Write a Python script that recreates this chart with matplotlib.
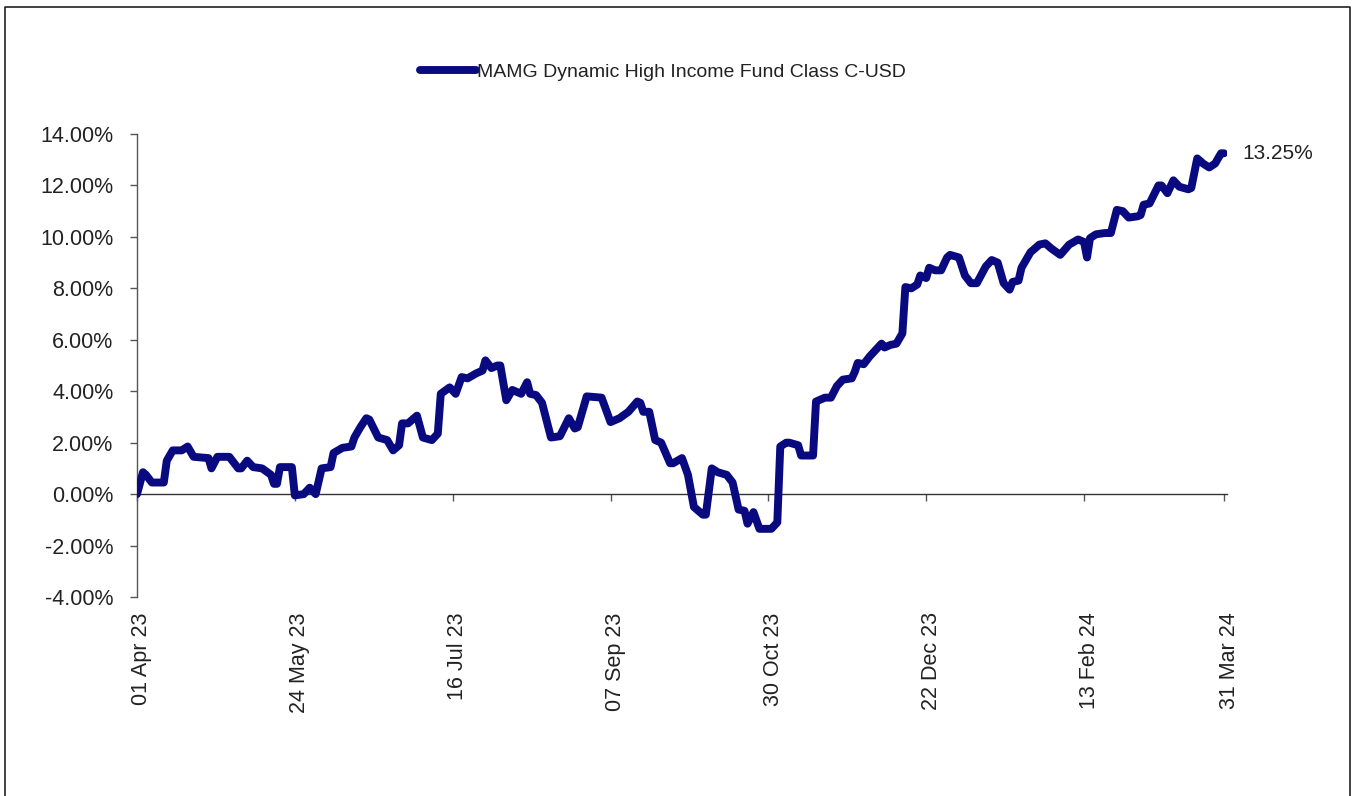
import matplotlib
matplotlib.use("Agg")
import matplotlib.pyplot as plt
from matplotlib.lines import Line2D
from matplotlib.transforms import ScaledTranslation
import pandas as pd

plt.rcParams['font.family'] = ['Liberation Sans', 'DejaVu Sans']

series_name = "MAMG Dynamic High Income Fund Class C-USD"
start_date = "2023-04-01"
# days since 01 Apr 23
days = [0, 2, 3, 5, 9, 10, 12, 15, 17, 19, 24, 25, 27, 31, 34, 35, 37, 39, 42, 45,
        46, 47, 48, 52, 53, 56, 58, 60, 62, 65, 66, 69, 72, 73, 75, 77, 78, 81, 84, 86,
        88, 89, 91, 94, 96, 99, 101, 102, 105, 107, 109, 111, 114, 116, 117, 119, 121, 122, 124, 126,
        129, 131, 132, 134, 136, 139, 142, 145, 147, 148, 151, 156, 159, 162, 165, 168, 169, 170, 172, 174,
        176, 179, 180, 183, 185, 187, 190, 191, 193, 195, 198, 200, 202, 204, 205, 207, 209, 213, 215, 216,
        218, 219, 222, 223, 227, 228, 231, 233, 235, 237, 240, 241, 242, 244, 246, 250, 251, 253, 255, 257,
        258, 260, 262, 263, 265, 266, 268, 270, 272, 273, 276, 278, 280, 282, 285, 287, 289, 291, 293, 294,
        296, 297, 298, 300, 303, 305, 307, 310, 313, 316, 318, 319, 320, 322, 325, 327, 329, 331, 333, 336,
        337, 338, 340, 343, 344, 346, 348, 350, 353, 354, 356, 358, 360, 362, 364, 365]
returns_pct = [0.0, 0.85, 0.75, 0.45, 0.45, 1.3, 1.7, 1.7, 1.85, 1.45, 1.4, 1.0, 1.45, 1.45, 1.0, 1.0, 1.3, 1.05, 1.0, 0.75,
               0.4, 0.4, 1.05, 1.05, -0.05, 0.0, 0.25, 0.0, 1.0, 1.05, 1.6, 1.8, 1.85, 2.2, 2.6, 2.95, 2.9, 2.2, 2.1, 1.7,
               1.9, 2.75, 2.75, 3.05, 2.2, 2.1, 2.35, 3.9, 4.15, 3.9, 4.55, 4.5, 4.7, 4.8, 5.2, 4.9, 5.0, 5.0, 3.65, 4.05,
               3.9, 4.35, 3.9, 3.85, 3.55, 2.2, 2.25, 2.95, 2.55, 2.6, 3.8, 3.75, 2.8, 2.95, 3.2, 3.6, 3.55, 3.2, 3.2, 2.1,
               2.0, 1.2, 1.2, 1.4, 0.75, -0.5, -0.8, -0.8, 1.0, 0.85, 0.75, 0.45, -0.6, -0.65, -1.15, -0.7, -1.35, -1.35, -1.1, 1.85,
               2.0, 2.0, 1.9, 1.5, 1.5, 3.6, 3.75, 3.75, 4.2, 4.45, 4.5, 4.75, 5.1, 5.05, 5.35, 5.85, 5.7, 5.8, 5.85, 6.25,
               8.05, 8.0, 8.15, 8.5, 8.4, 8.8, 8.7, 8.7, 9.2, 9.3, 9.2, 8.5, 8.2, 8.2, 8.85, 9.1, 9.0, 8.2, 7.95, 8.25,
               8.3, 8.8, 9.0, 9.4, 9.7, 9.75, 9.55, 9.3, 9.7, 9.9, 9.8, 9.2, 9.95, 10.1, 10.15, 10.15, 11.05, 11.0, 10.75, 10.8,
               10.85, 11.25, 11.3, 12.0, 12.0, 11.7, 12.2, 11.95, 11.85, 11.9, 13.05, 12.85, 12.7, 12.85, 13.25, 13.25]
tick_dates = ["2023-04-01", "2023-05-24", "2023-07-16", "2023-09-07",
              "2023-10-30", "2023-12-22", "2024-02-13", "2024-03-31"]
tick_labels = ["01 Apr 23", "24 May 23", "16 Jul 23", "07 Sep 23",
               "30 Oct 23", "22 Dec 23", "13 Feb 24", "31 Mar 24"]
y_ticks = [-4, -2, 0, 2, 4, 6, 8, 10, 12, 14]
end_label = "13.25%"

line_color = "#0a0a80"
text_color = "#222222"
axis_color = "#555555"

t0 = pd.Timestamp(start_date)
tick_pos = [(pd.Timestamp(d) - t0).days for d in tick_dates]

fig = plt.figure(figsize=(13.56, 7.96), dpi=100)
ax = fig.add_axes([137/1356, 1-597/796, (1227-137)/1356, (597-134)/796])

ax.plot(days, returns_pct, color=line_color, lw=5.7, solid_capstyle='round',
        solid_joinstyle='round', label=series_name, zorder=3)

ax.set_xlim(0, 366)
ax.set_ylim(-4, 14)
ax.set_yticks(y_ticks)
ax.set_yticklabels([f"{v:.2f}%" for v in y_ticks])
for s in ['top', 'right', 'bottom']:
    ax.spines[s].set_visible(False)
ax.spines['left'].set_color(axis_color)
ax.spines['left'].set_linewidth(1.0)
ax.tick_params(axis='y', direction='out', length=5, width=1, color=axis_color,
               labelsize=15.5, labelcolor=text_color, pad=12)
ax.set_xticks(tick_pos)
ax.set_xticklabels(tick_labels, rotation=90, va='top', ha='center')
ax.tick_params(axis='x', length=0, labelsize=15.5, labelcolor=text_color, pad=11)
shift = ScaledTranslation(5/100, 0, fig.dpi_scale_trans)
for lab in ax.get_xticklabels():
    lab.set_transform(lab.get_transform() + shift)

sec = ax.secondary_xaxis(4/18)
sec.set_xticks(tick_pos)
sec.set_xticklabels([])
sec.tick_params(axis='x', direction='out', length=5, width=1, color=axis_color)
sec.spines['bottom'].set_color('#333333')
sec.spines['bottom'].set_linewidth(1.0)

ax.text(days[-1] + 6, returns_pct[-1], end_label, color=text_color, fontsize=15,
        va='center', ha='left')

leg = fig.legend(loc='center', bbox_to_anchor=(663/1356, 1-72/796), frameon=False,
                 fontsize=14, handlelength=2.9, handletextpad=0.05)
for t in leg.get_texts():
    t.set_color(text_color)
for h in leg.get_lines():
    h.set_linewidth(5.7)

# outer frame (left, top, right)
fx = [5/1356, 5/1356, 1350/1356, 1350/1356]
fy = [-0.01, 1-7/796, 1-7/796, -0.01]
fig.lines.append(Line2D(fx, fy, transform=fig.transFigure, color='#222222', lw=1.2))

fig.savefig("out.png", dpi=100)
